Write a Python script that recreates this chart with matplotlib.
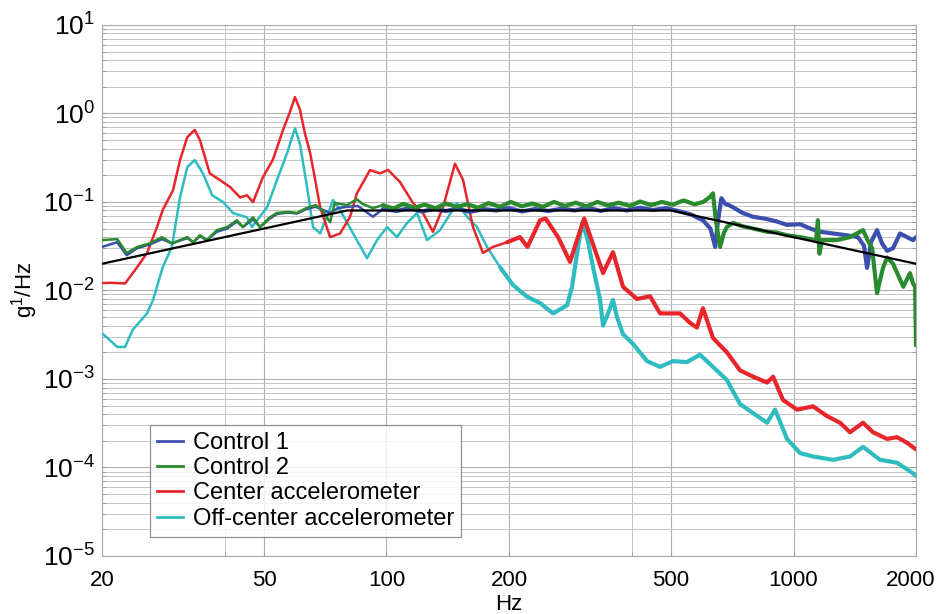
import numpy as np
import matplotlib.pyplot as plt
from matplotlib.ticker import FixedLocator, NullFormatter
from matplotlib.transforms import ScaledTranslation

plt.rcParams['font.family'] = ['Liberation Sans', 'DejaVu Sans']
plt.rcParams['mathtext.fontset'] = 'custom'
plt.rcParams['mathtext.rm'] = 'Liberation Sans'
plt.rcParams['mathtext.it'] = 'Liberation Sans:italic'
plt.rcParams['mathtext.bf'] = 'Liberation Sans:bold'

# reference profile (black)
ref_f = [20, 80, 500, 2000]
ref_v = [0.02, 0.08, 0.08, 0.02]

# Control 1 (blue)
blue_f = [20, 21.8, 23.0, 24.4, 26.2, 28.1, 29.7, 32.4, 33.5, 34.8,
          36.2, 38.3, 40.6, 42.9, 44.4, 47.0, 48.9, 51.7, 53.8, 57.2,
          60.3, 63.5, 67.0, 72.7, 76, 80, 85, 92.6, 98, 106,
          114, 122, 131, 140, 150, 160, 173, 186, 200, 215,
          232, 250, 270, 290, 312, 336, 362, 390, 420, 452,
          487, 526, 560, 599, 625, 642, 652, 665, 680, 694,
          710, 750, 795, 861, 910, 964, 1038, 1100, 1160, 1251,
          1350, 1440, 1490, 1516, 1550, 1604, 1650, 1698, 1756, 1827,
          1900, 1966, 2000]
blue_v = [0.031, 0.035, 0.025, 0.030, 0.033, 0.038, 0.034, 0.039, 0.035, 0.041,
          0.037, 0.046, 0.050, 0.060, 0.052, 0.064, 0.052, 0.065, 0.073, 0.076,
          0.074, 0.083, 0.088, 0.075, 0.085, 0.088, 0.09, 0.068, 0.083, 0.079,
          0.085, 0.078, 0.083, 0.079, 0.084, 0.077, 0.083, 0.08, 0.085, 0.078,
          0.083, 0.079, 0.084, 0.08, 0.086, 0.079, 0.085, 0.08, 0.086, 0.081,
          0.085, 0.078, 0.072, 0.062, 0.05, 0.031, 0.06, 0.11, 0.095, 0.092,
          0.087, 0.075, 0.068, 0.064, 0.060, 0.055, 0.056, 0.050, 0.046, 0.044,
          0.042, 0.040, 0.032, 0.018, 0.035, 0.048, 0.034, 0.028, 0.03, 0.044,
          0.04, 0.037, 0.04]

# Control 2 (green)
green_f = [20, 21.8, 23.0, 24.4, 26.2, 28.1, 29.7, 32.4, 33.5, 34.8,
           36.2, 38.3, 40.6, 42.9, 44.4, 47.0, 48.9, 51.7, 53.8, 57.2,
           60.3, 63.5, 67.0, 69.5, 72.7, 74.6, 79.9, 84.6, 87.3, 92.6,
           98, 104, 110, 117, 124, 132, 140, 149, 158, 168,
           178, 190, 202, 215, 228, 242, 258, 274, 292, 310,
           330, 350, 372, 396, 420, 447, 475, 505, 537, 571,
           600, 624, 634, 645, 660, 675, 686, 710, 750, 795,
           861, 910, 964, 1038, 1100, 1135, 1148, 1158, 1175, 1279,
           1377, 1482, 1516, 1560, 1604, 1659, 1698, 1756, 1827, 1861,
           1933, 1966, 1990, 2000]
green_v = [0.037, 0.038, 0.0264, 0.031, 0.034, 0.040, 0.034, 0.040, 0.035, 0.042,
           0.037, 0.048, 0.052, 0.062, 0.052, 0.067, 0.052, 0.067, 0.075, 0.077,
           0.075, 0.085, 0.092, 0.081, 0.059, 0.097, 0.092, 0.107, 0.095, 0.085,
           0.092, 0.084, 0.095, 0.086, 0.093, 0.085, 0.096, 0.088, 0.094, 0.086,
           0.097, 0.088, 0.1, 0.089, 0.096, 0.088, 0.1, 0.09, 0.098, 0.089,
           0.1, 0.091, 0.098, 0.09, 0.101, 0.092, 0.1, 0.093, 0.104, 0.094,
           0.1, 0.114, 0.125, 0.06, 0.031, 0.045, 0.052, 0.058, 0.053, 0.05,
           0.046, 0.045, 0.042, 0.040, 0.038, 0.036, 0.062, 0.026, 0.037, 0.037,
           0.040, 0.048, 0.038, 0.03, 0.0093, 0.018, 0.0236, 0.02, 0.0133, 0.011,
           0.0157, 0.012, 0.011, 0.0024]

# Center accelerometer (red)
red_f = [20, 20.9, 22.8, 24.4, 25.8, 27.3, 28.2, 29.9, 31.1, 32.4,
         33.8, 34.8, 36.8, 39.0, 41.3, 43.7, 45.4, 47.0, 49.7, 52.6,
         55.7, 57.5, 59.6, 61.3, 63.0, 64.9, 66.5, 68.7, 72.7, 76.9,
         81.4, 84.6, 91.1, 96.4, 100.9, 107.9, 116.2, 122.9, 130.1, 137.7,
         147.3, 154.2, 163.1, 172.6, 182.7, 197.8, 212.8, 222, 238.4, 246,
         264, 282.5, 293.8, 306, 321.8, 340.4, 360.2, 381.2, 412.6, 444.2,
         470, 526, 557, 579, 599, 634, 686, 739, 796, 861,
         891, 942, 1020, 1117, 1209, 1301, 1377, 1482, 1568, 1698,
         1796, 1901, 2000]
red_v = [0.0121, 0.0122, 0.012, 0.0183, 0.0264, 0.052, 0.081, 0.136, 0.297, 0.54,
         0.65, 0.50, 0.21, 0.176, 0.147, 0.112, 0.119, 0.0995, 0.19, 0.30,
         0.65, 0.95, 1.53, 1.1, 0.6, 0.36, 0.2, 0.087, 0.040, 0.044,
         0.068, 0.125, 0.229, 0.21, 0.23, 0.168, 0.097, 0.075, 0.046, 0.087,
         0.27, 0.177, 0.052, 0.0265, 0.031, 0.035, 0.040, 0.031, 0.062, 0.065,
         0.040, 0.021, 0.037, 0.065, 0.033, 0.0157, 0.027, 0.011, 0.0080, 0.0086,
         0.0055, 0.0055, 0.0043, 0.0038, 0.0063, 0.0029, 0.0020, 0.00125, 0.00106, 0.00091,
         0.00106, 0.00058, 0.00045, 0.00049, 0.00038, 0.00032, 0.00025, 0.00032, 0.00025, 0.00021,
         0.00022, 0.00019, 0.00016]

# Off-center accelerometer (cyan)
cyan_f = [20, 21.8, 22.8, 23.8, 25.8, 26.7, 28.2, 29.7, 31.1, 32.4,
          33.8, 35.4, 37.3, 39.7, 42.0, 45.4, 46.7, 48.1, 50.9, 53.8,
          57.0, 59.6, 61.3, 63.8, 66.0, 68.7, 71.4, 73.9, 76.9, 82.8,
          89.6, 94.8, 100.3, 106.1, 112.3, 118.9, 125.8, 135.4, 149.0, 157.7,
          166.9, 176.6, 190.1, 204.6, 221.4, 238.4, 256.6, 277.8, 285.7, 293.8,
          302.3, 311.0, 321.8, 334.8, 340.4, 350.2, 360.2, 368.4, 381.2, 403.2,
          436.6, 470, 506, 547, 589, 634, 686, 739, 796, 861,
          901, 964, 1038, 1117, 1251, 1377, 1482, 1631, 1796, 1966,
          2000]
cyan_v = [0.0033, 0.0023, 0.0023, 0.0036, 0.0055, 0.0078, 0.0183, 0.031, 0.113, 0.247,
          0.297, 0.21, 0.119, 0.0995, 0.0746, 0.067, 0.052, 0.062, 0.087, 0.176,
          0.356, 0.68, 0.45, 0.147, 0.052, 0.044, 0.068, 0.105, 0.081, 0.044,
          0.0231, 0.037, 0.052, 0.040, 0.0576, 0.075, 0.037, 0.048, 0.097, 0.068,
          0.052, 0.031, 0.0183, 0.0115, 0.0085, 0.0072, 0.0055, 0.0068, 0.011, 0.026,
          0.058, 0.040, 0.0183, 0.0078, 0.0040, 0.0055, 0.0078, 0.0050, 0.0032, 0.0025,
          0.00159, 0.00137, 0.00159, 0.00155, 0.00188, 0.00137, 0.00097, 0.00052, 0.00041, 0.00032,
          0.00045, 0.00021, 0.000145, 0.000133, 0.000122, 0.000133, 0.000171, 0.000122, 0.000113, 0.000086,
          0.00008]

x_ticks = [20, 50, 100, 200, 500, 1000, 2000]
x_minor = [40, 400]
y_ticks = [1e-5, 1e-4, 1e-3, 1e-2, 1e-1, 1e0, 1e1]
y_labels = ['$10^{-5}$', '$10^{-4}$', '$10^{-3}$', '$10^{-2}$', '$10^{-1}$', '$10^{0}$', '$10^{1}$']

c_blue = '#3a4fae'
c_green = '#2a8a2e'
c_red = '#e8252b'
c_cyan = '#2fbcc0'

fig = plt.figure(figsize=(9.4, 6.14), dpi=100)
ax = fig.add_axes([0.1085, 0.0945, 0.866, 0.865])


def trace(f, v, color, label, f_noise, z):
    f = np.asarray(f)
    v = np.asarray(v)
    ax.plot(f, v, color=color, lw=1.8, label=label, zorder=z,
            solid_joinstyle='round')
    # the noisy part of the spectrum shows as a thicker band
    m = f >= f_noise
    ax.plot(f[m], v[m], color=color, lw=3.0, zorder=z,
            solid_joinstyle='round', solid_capstyle='round')


trace(blue_f, blue_v, c_blue, 'Control 1', 95, 4)
trace(green_f, green_v, c_green, 'Control 2', 95, 5)
trace(red_f, red_v, c_red, 'Center accelerometer', 190, 3)
trace(cyan_f, cyan_v, c_cyan, 'Off-center accelerometer', 190, 2)
ax.plot(ref_f, ref_v, color='black', lw=1.6, zorder=6)

ax.set_xscale('log')
ax.set_yscale('log')
ax.set_xlim(20, 2000)
ax.set_ylim(1e-5, 10)

ax.set_xticks(x_ticks)
ax.set_xticklabels([str(t) for t in x_ticks])
ax.xaxis.set_minor_locator(FixedLocator(x_minor))
ax.xaxis.set_minor_formatter(NullFormatter())
ax.set_yticks(y_ticks)
ax.set_yticklabels(y_labels)
ax.yaxis.set_minor_formatter(NullFormatter())

ax.grid(True, which='major', axis='both', color='#b0b0b0', lw=0.8, zorder=0)
ax.grid(True, which='minor', axis='both', color='#c4c4c4', lw=0.7, zorder=0)

ax.tick_params(axis='both', which='both', direction='in', length=3, color='#999999',
               top=False, right=True)
ax.tick_params(axis='x', labelsize=16, pad=10)
ax.tick_params(axis='y', labelsize=19, pad=5)
for s in ax.spines.values():
    s.set_color('#aaaaaa')
    s.set_linewidth(0.8)

# keep the last x label inside the figure
last = ax.get_xticklabels()[-1]
last.set_transform(last.get_transform() + ScaledTranslation(-5 / 100, 0, fig.dpi_scale_trans))

ax.set_xlabel('Hz', fontsize=16, labelpad=2)
ax.set_ylabel('g$^1$/Hz', fontsize=16, labelpad=2)

leg = ax.legend(loc='lower left', bbox_to_anchor=(0.059, 0.036), borderaxespad=0,
                fontsize=17, frameon=True, fancybox=False, handlelength=1.1,
                handletextpad=0.4, labelspacing=0.14, borderpad=0.3)
leg.get_frame().set_edgecolor('#777777')
leg.get_frame().set_linewidth(0.9)
for h in leg.get_lines():
    h.set_linewidth(2.0)

fig.savefig('out.png', dpi=100)
